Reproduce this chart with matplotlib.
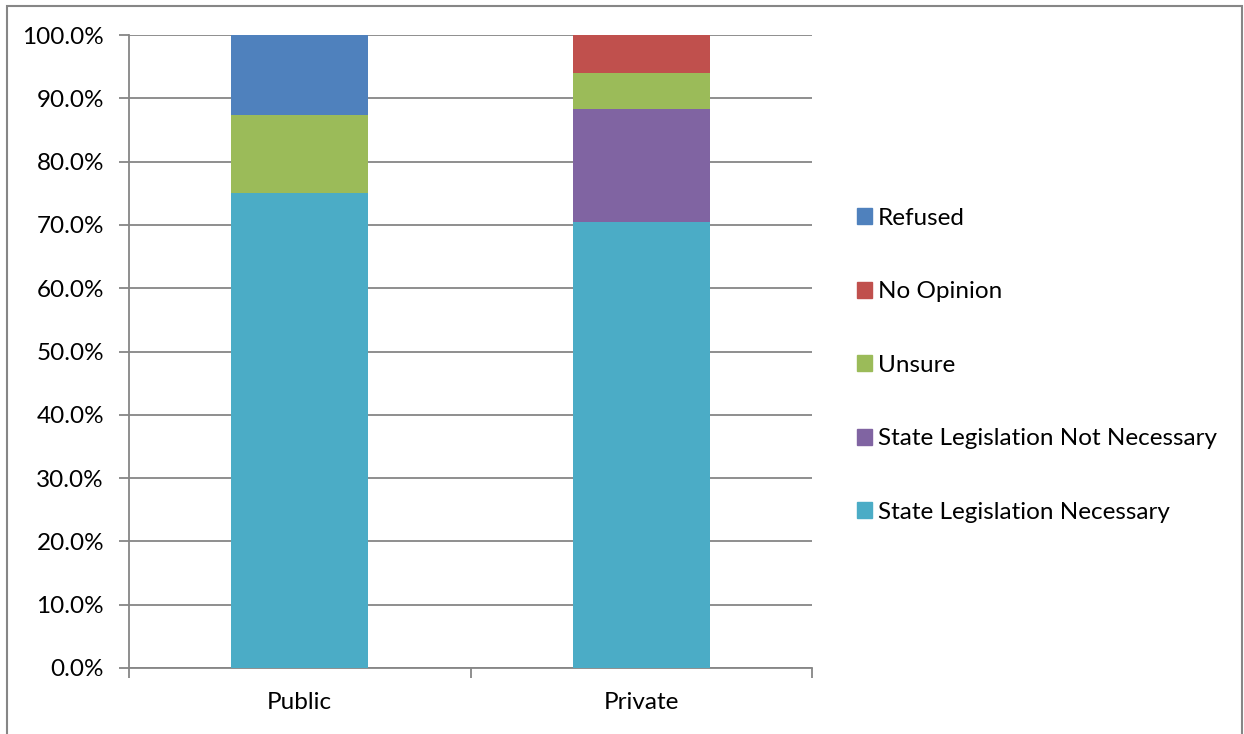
import matplotlib
matplotlib.use("Agg")
import matplotlib.pyplot as plt
import matplotlib.ticker as mticker
from matplotlib.patches import Rectangle, Patch

# ---------------------------------------------------------------------------
# Data (percent of respondents)
# ---------------------------------------------------------------------------
categories = ["Public", "Private"]
necessary = [75.0, 70.5]
not_necessary = [0.0, 17.8]
unsure = [12.4, 5.7]
no_opinion = [0.0, 6.0]
refused = [12.6, 0.0]

series = [
    ("State Legislation Necessary", necessary, "#4BACC6"),
    ("State Legislation Not Necessary", not_necessary, "#8064A2"),
    ("Unsure", unsure, "#9BBB59"),
    ("No Opinion", no_opinion, "#C0504D"),
    ("Refused", refused, "#4F81BD"),
]

plt.rcParams["font.family"] = ["Lato", "DejaVu Sans"]
GRID = "#868686"
FS = 17.5

fig = plt.figure(figsize=(12.44, 7.34), dpi=100)
ax = fig.add_axes([129 / 1244, 1 - 668 / 734, (812 - 129) / 1244, (668 - 35) / 734])

x = list(range(len(categories)))
bottom = [0.0] * len(categories)
for label, vals, color in series:
    ax.bar(x, vals, bottom=bottom, width=0.4, color=color, label=label, zorder=3)
    bottom = [b + v for b, v in zip(bottom, vals)]

ax.set_xlim(-0.5, len(categories) - 0.5)
ax.set_ylim(0, 100)
ax.yaxis.set_major_locator(mticker.MultipleLocator(10))
ax.yaxis.set_major_formatter(mticker.FuncFormatter(lambda v, _: f"{v:.1f}%"))
ax.grid(axis="y", color=GRID, linewidth=1.3, zorder=0)

# category labels between boundary ticks
ax.set_xticks([i - 0.5 for i in range(len(categories) + 1)])
ax.set_xticklabels([])
ax.set_xticks(x, minor=True)
ax.set_xticklabels(categories, minor=True)
ax.tick_params(axis="x", which="minor", length=0, pad=17, labelsize=FS)
ax.tick_params(axis="x", which="major", length=7, color=GRID, width=1.3)
ax.tick_params(axis="y", length=7, color=GRID, width=1.3, labelsize=FS, pad=11)

for side in ("top", "right"):
    ax.spines[side].set_visible(False)
for side in ("left", "bottom"):
    ax.spines[side].set_color(GRID)
    ax.spines[side].set_linewidth(1.3)

handles = [Patch(color=c, label=l) for l, _, c in series][::-1]
ax.legend(handles=handles, loc="center left", bbox_to_anchor=(1.066, 0.478),
          frameon=False, fontsize=FS, handlelength=0.62, handleheight=0.62,
          handletextpad=0.25, labelspacing=2.16, borderpad=0, borderaxespad=0)

# outer chart frame
fig.patches.append(Rectangle((7 / 1244, -0.05), (1242 - 7) / 1244, 1.05 - 6 / 734,
                             transform=fig.transFigure, fill=False,
                             edgecolor=GRID, linewidth=1.5))

fig.savefig("out.png", dpi=100)
plt.close(fig)
